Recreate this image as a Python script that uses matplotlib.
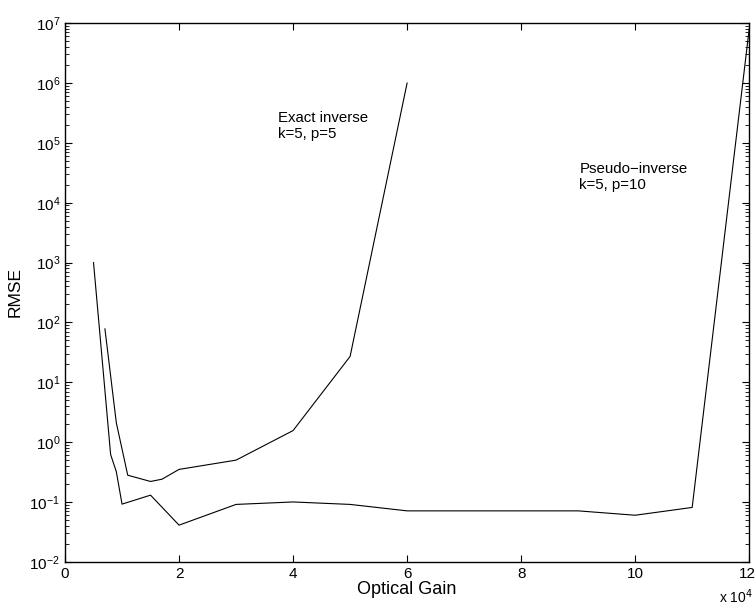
import numpy as np
import matplotlib
matplotlib.use("Agg")
import matplotlib.pyplot as plt
import matplotlib.transforms as mtransforms
from matplotlib.ticker import FuncFormatter, LogLocator, NullFormatter

plt.rcParams['font.family'] = ['Liberation Sans', 'DejaVu Sans']

# Exact inverse, k=5, p=5
gain_exact = [7000, 9000, 11000, 15000, 17000, 20000, 30000, 40000, 50000, 60000]
rmse_exact = [78, 2.1, 0.28, 0.22, 0.24, 0.35, 0.5, 1.56, 27, 1.0e6]

# Pseudo-inverse, k=5, p=10
gain_pseudo = [5000, 8000, 9000, 10000, 15000, 20000, 30000, 40000, 50000,
               60000, 70000, 80000, 90000, 100000, 110000, 120000]
rmse_pseudo = [1000, 0.62, 0.32, 0.092, 0.13, 0.041, 0.091, 0.10, 0.091,
               0.071, 0.071, 0.071, 0.071, 0.060, 0.081, 8.0e6]

fig = plt.figure(figsize=(7.56, 6.10), dpi=100)
ax = fig.add_axes([0.086, 0.079, 0.905, 0.883])

ax.plot(gain_exact, rmse_exact, color='black', lw=0.8)
ax.plot(gain_pseudo, rmse_pseudo, color='black', lw=0.8)

ax.set_yscale('log')
ax.set_xlim(0, 120000)
ax.set_ylim(1e-2, 1e7)
ax.set_xticks(np.arange(0, 120001, 20000))
ax.xaxis.set_major_formatter(FuncFormatter(lambda v, p: '%d' % round(v / 1e4)))
ax.yaxis.set_major_locator(LogLocator(base=10, numticks=20))
ax.yaxis.set_minor_locator(LogLocator(base=10, subs=np.arange(2, 10), numticks=100))
ax.yaxis.set_minor_formatter(NullFormatter())

ax.tick_params(which='both', direction='in', top=True, right=True, labelsize=11)
ax.tick_params(which='major', length=5, width=0.8)
ax.tick_params(which='minor', length=3, width=0.6)
for s in ax.spines.values():
    s.set_linewidth(1.0)

# keep the last x tick label inside the figure
fig.canvas.draw()
last = ax.get_xticklabels()[-1]
last.set_transform(last.get_transform() +
                   mtransforms.ScaledTranslation(-2 / 100, 0, fig.dpi_scale_trans))

ax.set_xlabel('Optical Gain', fontsize=13, labelpad=0)
ax.set_ylabel('RMSE', fontsize=12.5, labelpad=5)

fig.text(0.996, 0.006, r'x 10$^4$', fontsize=10, ha='right', va='bottom')

ax.text(37400, 1.9e5, 'Exact inverse\nk=5, p=5', fontsize=10.8, ha='left', va='center',
        linespacing=1.2)
ax.text(90200, 2.7e4, 'Pseudo\u2212inverse\nk=5, p=10', fontsize=10.8, ha='left', va='center',
        linespacing=1.2)

fig.savefig('out.png', dpi=100)
